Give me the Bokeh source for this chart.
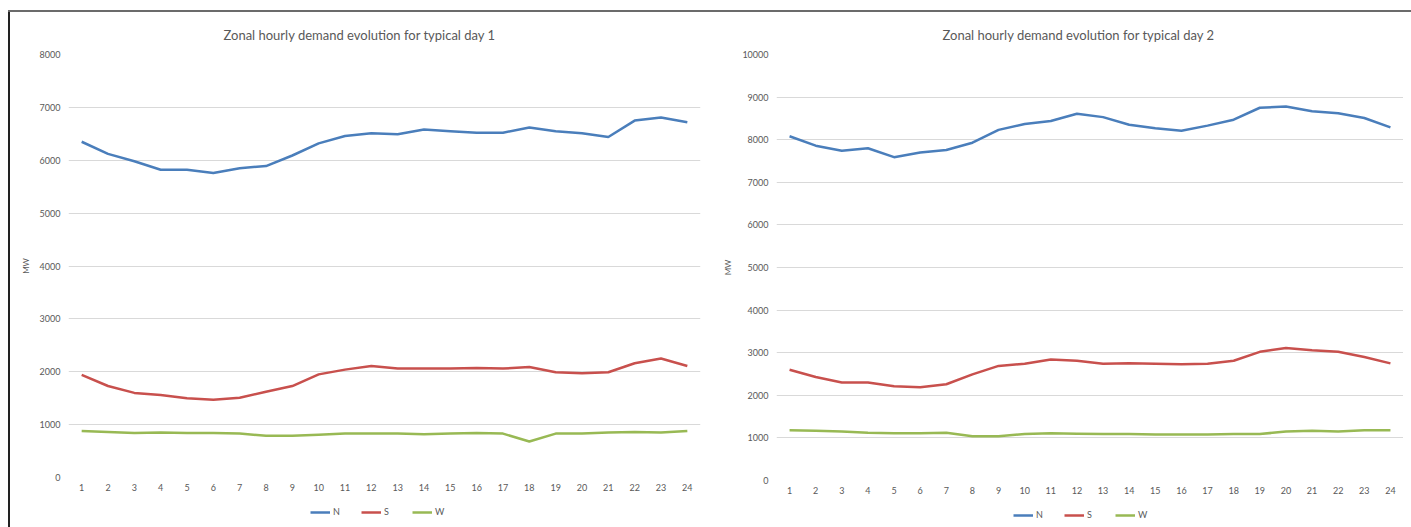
from bokeh.plotting import figure
from bokeh.models import Range1d, FixedTicker, Legend, LegendItem, Div
from bokeh.layouts import row, column
from bokeh.embed import file_html
from bokeh.resources import INLINE

hours = list(range(1, 25))

day1_N = [6350, 6120, 5980, 5820, 5820, 5760, 5850, 5890, 6090, 6320, 6460, 6510,
          6490, 6580, 6550, 6520, 6520, 6620, 6550, 6510, 6440, 6750, 6810, 6720]
day1_S = [1940, 1730, 1600, 1560, 1500, 1470, 1510, 1620, 1730, 1950, 2040, 2110,
          2060, 2060, 2060, 2070, 2060, 2090, 1990, 1970, 1990, 2160, 2250, 2110]
day1_W = [880, 860, 840, 850, 840, 840, 830, 790, 790, 810, 830, 830,
          830, 820, 830, 840, 830, 680, 830, 830, 850, 860, 850, 880]

day2_N = [8080, 7860, 7740, 7800, 7590, 7700, 7760, 7930, 8230, 8370, 8440, 8610,
          8530, 8350, 8270, 8210, 8330, 8470, 8750, 8780, 8670, 8620, 8510, 8290]
day2_S = [2600, 2430, 2300, 2300, 2210, 2190, 2260, 2490, 2690, 2740, 2840, 2810,
          2740, 2750, 2740, 2730, 2740, 2810, 3020, 3110, 3060, 3020, 2900, 2750]
day2_W = [1180, 1170, 1150, 1120, 1110, 1110, 1120, 1040, 1040, 1090, 1110, 1100,
          1090, 1090, 1080, 1080, 1080, 1090, 1090, 1150, 1170, 1150, 1180, 1180]

series_names = ["N", "S", "W"]
colors = ["#4A7EBB", "#C8504D", "#98B954"]

titles = ["Zonal hourly demand evolution for typical day 1",
          "Zonal hourly demand evolution for typical day 2"]
y_max = [8000, 10000]

FONT = "Lato"
TXT = "#595959"


def make_chart(title, data, ymax, fw, fh, left, right, top, bottom, title_offset):
    p = figure(frame_width=fw, frame_height=fh, output_backend="svg", toolbar_location=None,
               x_range=Range1d(0.5, 24.5), y_range=Range1d(0, ymax),
               min_border_left=left, min_border_right=right,
               min_border_top=top, min_border_bottom=bottom)
    p.outline_line_color = None
    p.title.text = title
    p.title.align = "left"
    p.title.offset = title_offset
    p.title.text_font = FONT
    p.title.text_font_size = "13px"
    p.title.text_font_style = "normal"
    p.title.text_color = TXT
    p.title.standoff = 24

    p.xgrid.grid_line_color = None
    p.ygrid.grid_line_color = "#D9D9D9"
    p.ygrid.grid_line_width = 1

    p.xaxis.ticker = FixedTicker(ticks=hours)
    p.yaxis.ticker = FixedTicker(ticks=list(range(0, ymax + 1, 1000)))
    for ax in (p.xaxis, p.yaxis):
        ax.axis_line_color = None
        ax.major_tick_line_color = None
        ax.minor_tick_line_color = None
        ax.major_tick_out = 0
        ax.major_tick_in = 0
        ax.minor_tick_out = 0
        ax.minor_tick_in = 0
        ax.major_label_text_font = FONT
        ax.major_label_text_font_size = "9px"
        ax.major_label_text_color = TXT
    p.xaxis.major_label_standoff = 6
    p.yaxis.major_label_standoff = 8
    p.yaxis.axis_label = "MW"
    p.yaxis.axis_label_text_font = FONT
    p.yaxis.axis_label_text_font_size = "8px"
    p.yaxis.axis_label_text_font_style = "normal"
    p.yaxis.axis_label_text_color = TXT
    p.yaxis.axis_label_standoff = 6

    for vals, c in zip(data, colors):
        p.line(hours, vals, line_color=c, line_width=2.5)
    return p


def make_legend(width, x_left, data):
    # Legend-only strip: the series are drawn here far outside the visible range,
    # so only the legend swatches show.
    lf = figure(frame_width=width, frame_height=20, output_backend="svg", toolbar_location=None,
                x_range=Range1d(0, 1), y_range=Range1d(0, 1),
                x_axis_type=None, y_axis_type=None,
                min_border_left=0, min_border_right=0, min_border_top=0, min_border_bottom=0)
    lf.outline_line_color = None
    lf.xgrid.visible = False
    lf.ygrid.visible = False
    items = []
    for name, vals, c in zip(series_names, data, colors):
        r = lf.line(hours, vals, line_color=c, line_width=2.5)
        items.append(LegendItem(label=name, renderers=[r]))
    leg = Legend(items=items, orientation="horizontal", location=(x_left, 4),
                 glyph_width=20, glyph_height=10, label_standoff=3, spacing=8,
                 padding=0, margin=0, border_line_color=None, background_fill_alpha=0,
                 label_text_font=FONT, label_text_font_size="9px", label_text_color=TXT,
                 label_height=10)
    lf.add_layout(leg)
    return lf


data1 = [day1_N, day1_S, day1_W]
data2 = [day2_N, day2_S, day2_W]
p1 = make_chart(titles[0], data1, y_max[0], 632, 423, 58, 12, 41, 24, 155)
p2 = make_chart(titles[1], data2, y_max[1], 627, 426, 64, 0, 41, 24, 166)
l1 = make_legend(702, 300, data1)
l2 = make_legend(691, 301, data2)

top_line = Div(text="", width=1403, height=2, margin=0,
               styles={"background-color": "#6B6B6B"})
left_line = Div(text="", width=2, height=515, margin=0,
                styles={"background-color": "#222222"})

layout = column(top_line,
                row(left_line, column(p1, l1, spacing=0), column(p2, l2, spacing=0), spacing=0),
                spacing=0, margin=(10, 0, 0, 8))

open("out.html", "w").write(file_html(layout, INLINE))
